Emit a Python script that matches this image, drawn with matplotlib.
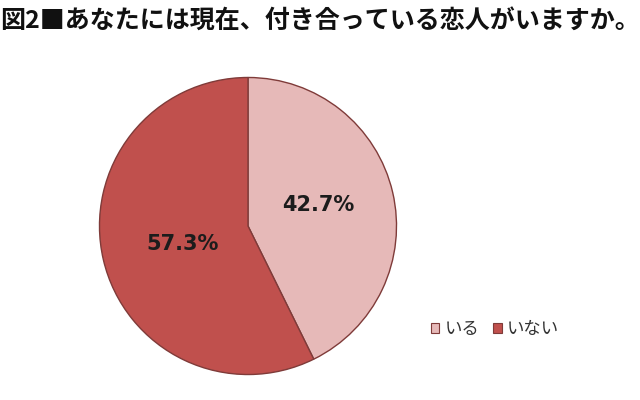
import matplotlib
matplotlib.use("Agg")
import matplotlib.pyplot as plt
import matplotlib.patches as mpatches

plt.rcParams["font.family"] = ["Noto Sans CJK JP", "DejaVu Sans"]

# ── data ──────────────────────────────────────────
labels = ["いる", "いない"]
shares = [42.7, 57.3]
colors = ["#E6B9B8", "#C0504D"]
EDGE = "#7F3B39"
title = "図2■あなたには現在、付き合っている恋人がいますか。"

fig = plt.figure(figsize=(6.4, 4.0), dpi=100)
fig.patch.set_facecolor("white")

# pie box: center ~(248, 226) px, radius ~150 px
ax = fig.add_axes([98 / 640, (400 - 376) / 400, 300 / 640, 300 / 400])
wedges, _ = ax.pie(shares, colors=colors, startangle=90, counterclock=False,
                   wedgeprops=dict(edgecolor=EDGE, linewidth=1.0))
ax.set_xlim(-1.01, 1.01)
ax.set_ylim(-1.01, 1.01)

# percent labels, placed like the original
label_pos = [(0.47, 0.14), (-0.44, -0.12)]
for val, (lx, ly) in zip(shares, label_pos):
    ax.text(lx, ly, f"{val:.1f}%", ha="center", va="center",
            fontsize=15, fontweight="bold", color="#1c1c1c",
            family="DejaVu Sans")

fig.text(0.5, 1 - 21 / 400, title, ha="center", va="center",
         fontsize=18, fontweight="bold", color="#111111")

handles = [mpatches.Patch(facecolor=c, edgecolor=EDGE, linewidth=0.8, label=l)
           for c, l in zip(colors, labels)]
fig.legend(handles=handles, loc="center", bbox_to_anchor=(495 / 640, 1 - 329 / 400),
           ncol=2, frameon=False, fontsize=12.5, handlelength=0.5, handleheight=0.5,
           handletextpad=0.3, columnspacing=0.8, labelcolor="#333333")

fig.savefig("out.png", dpi=100, facecolor="white")
